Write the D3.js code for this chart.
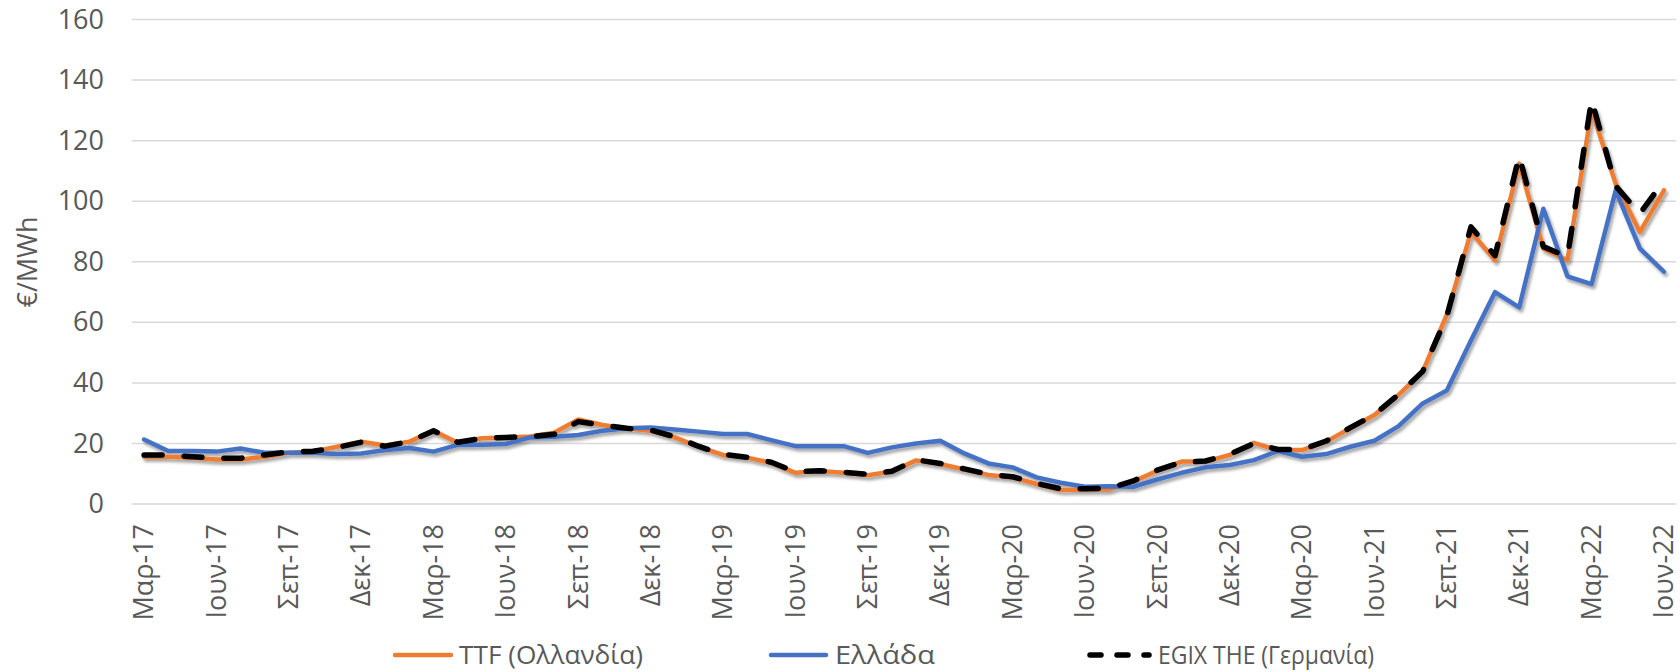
<!DOCTYPE html>
<html>
<head>
<meta charset="utf-8">
<script src="https://cdn.jsdelivr.net/npm/d3@7"></script>
<style>
  html, body { margin: 0; padding: 0; background: #fff; }
  svg { display: block; }
  text { font-family: "Open Sans", "Noto Sans", sans-serif; fill: #595959; }
</style>
</head>
<body>
<svg id="chart" width="1680" height="672"></svg>
<script>
const categories = [
  "Μαρ-17","Απρ-17","Μαϊ-17","Ιουν-17","Ιουλ-17","Αυγ-17","Σεπ-17","Οκτ-17","Νοε-17","Δεκ-17","Ιαν-18","Φεβ-18",
  "Μαρ-18","Απρ-18","Μαϊ-18","Ιουν-18","Ιουλ-18","Αυγ-18","Σεπ-18","Οκτ-18","Νοε-18","Δεκ-18","Ιαν-19","Φεβ-19",
  "Μαρ-19","Απρ-19","Μαϊ-19","Ιουν-19","Ιουλ-19","Αυγ-19","Σεπ-19","Οκτ-19","Νοε-19","Δεκ-19","Ιαν-20","Φεβ-20",
  "Μαρ-20","Απρ-20","Μαϊ-20","Ιουν-20","Ιουλ-20","Αυγ-20","Σεπ-20","Οκτ-20","Νοε-20","Δεκ-20","Ιαν-21","Φεβ-21",
  "Μαρ-20","Απρ-21","Μαϊ-21","Ιουν-21","Ιουλ-21","Αυγ-21","Σεπ-21","Οκτ-21","Νοε-21","Δεκ-21","Ιαν-22","Φεβ-22",
  "Μαρ-22","Απρ-22","Μαϊ-22","Ιουν-22"
];

const ttf = [
  15.6,15.6,15.3,14.7,14.7,15.6,16.9,17.3,18.9,20.6,19.3,20.6,
  24.2,20.2,21.7,22.0,22.3,23.5,27.9,26.1,25.0,24.2,22.0,18.9,
  16.2,15.3,13.6,10.3,10.9,10.3,9.5,10.7,14.4,13.2,11.4,9.6,
  8.8,6.6,4.6,4.8,4.8,7.4,11.0,14.0,14.0,16.2,20.2,17.8,
  17.8,20.6,25.0,29.4,36.0,43.7,62.5,89.8,80.5,112.4,84.4,80.5,
  130.0,105.8,89.8,103.6
];

const greece = [
  21.3,17.5,17.5,17.3,18.3,16.9,16.9,16.9,16.5,16.7,17.8,18.5,
  17.3,19.5,19.6,19.8,22.0,22.2,22.8,24.2,25.0,25.3,24.6,23.9,
  23.1,23.1,21.1,19.1,19.1,19.1,16.9,18.7,20.0,20.9,16.7,13.4,
  12.1,8.8,7.0,5.7,5.9,5.7,8.1,10.3,12.1,12.9,14.5,17.5,
  15.6,16.5,18.9,20.9,25.7,33.2,37.5,54.0,70.0,64.9,97.5,75.2,
  72.6,103.6,84.4,76.7
];

const egix = [
  16.2,16.2,15.6,15.1,15.1,16.2,17.2,17.4,18.7,20.4,19.1,20.6,
  24.2,20.4,21.7,22.0,22.3,23.0,27.2,26.0,25.0,24.4,22.2,19.0,
  16.4,15.4,13.8,10.6,11.0,10.5,9.8,10.8,14.6,13.4,11.6,9.8,
  9.0,6.8,5.0,5.0,5.2,7.6,11.2,13.8,14.2,16.4,20.0,18.0,
  18.0,20.8,25.2,29.5,36.2,43.8,62.0,91.5,82.0,115.0,85.0,81.6,
  133.5,105.0,95.9,106.7
];

const yTicks = [0,20,40,60,80,100,120,140,160];
const seriesNames = ["TTF (Ολλανδία)", "Ελλάδα", "EGIX THE (Γερμανία)"];
const yTitle = "€/MWh";

const svg = d3.select("#chart");
const plotLeft = 132, plotRight = 1676, plotTop = 19.5, plotBottom = 504;

const x = d3.scaleBand().domain(d3.range(categories.length)).range([plotLeft, plotRight]);
const cx = i => x(i) + x.bandwidth() / 2;
const y = d3.scaleLinear().domain([0, 160]).range([plotBottom, plotTop]);

const defs = svg.append("defs");
const f = defs.append("filter").attr("id", "shadow")
  .attr("x", "-5%").attr("y", "-5%").attr("width", "110%").attr("height", "120%");
f.append("feDropShadow").attr("dx", 2).attr("dy", 3).attr("stdDeviation", 1.8)
  .attr("flood-color", "#000").attr("flood-opacity", 0.35);

// gridlines
svg.append("g").selectAll("line").data(yTicks).join("line")
  .attr("x1", plotLeft).attr("x2", plotRight)
  .attr("y1", d => y(d)).attr("y2", d => y(d))
  .attr("stroke", "#d9d9d9").attr("stroke-width", 1.5);

// y axis
const ya = svg.append("g").attr("transform", `translate(${plotLeft - 28},0)`)
  .call(d3.axisLeft(y).tickValues(yTicks).tickSize(0).tickPadding(0));
ya.select(".domain").remove();
ya.selectAll("text").style("font-size", "27px").style("fill", "#595959")
  .style("font-family", '"Open Sans", sans-serif');

// x axis
const xa = svg.append("g").attr("transform", `translate(0,${plotBottom})`)
  .call(d3.axisBottom(x).tickValues(d3.range(0, categories.length, 3))
    .tickFormat(i => categories[i]).tickSize(0));
xa.select(".domain").remove();
xa.selectAll("text")
  .attr("transform", "rotate(-90)")
  .attr("x", -20).attr("y", 0).attr("dy", "0.34em")
  .style("text-anchor", "end")
  .style("font-size", "27px").style("fill", "#595959")
  .style("font-family", '"Open Sans", sans-serif');

// y title
svg.append("text")
  .attr("transform", `translate(37,262) rotate(-90)`)
  .attr("text-anchor", "middle")
  .style("font-size", "27px")
  .text(yTitle);

const line = d3.line().x((d, i) => cx(i)).y(d => y(d));

const lines = svg.append("g").attr("filter", "url(#shadow)");
lines.append("path").datum(ttf).attr("d", line)
  .attr("fill", "none").attr("stroke", "#ED7D31").attr("stroke-width", 4.5)
  .attr("stroke-linejoin", "round").attr("stroke-linecap", "round");
lines.append("path").datum(greece).attr("d", line)
  .attr("fill", "none").attr("stroke", "#4472C4").attr("stroke-width", 4.5)
  .attr("stroke-linejoin", "round").attr("stroke-linecap", "round");
lines.append("path").datum(egix).attr("d", line)
  .attr("fill", "none").attr("stroke", "#000").attr("stroke-width", 5.5)
  .attr("stroke-dasharray", "18,22")
  .attr("stroke-linejoin", "round").attr("stroke-linecap", "round");

// legend
const legendItems = [
  {name: seriesNames[0], color: "#ED7D31", dash: null, x1: 395, x2: 451, tx: 459, w: 4.5, len: 184},
  {name: seriesNames[1], color: "#4472C4", dash: null, x1: 771, x2: 826, tx: 835, w: 4.5, len: 100},
  {name: seriesNames[2], color: "#000", dash: "11,16", x1: 1090, x2: 1149, tx: 1158, w: 5.5, len: 216}
];
const lg = svg.append("g");
legendItems.forEach(it => {
  const l = lg.append("line").attr("x1", it.x1).attr("x2", it.x2)
    .attr("y1", 655).attr("y2", 655)
    .attr("stroke", it.color).attr("stroke-width", it.w).attr("stroke-linecap", "round");
  if (it.dash) l.attr("stroke-dasharray", it.dash);
  lg.append("text").attr("x", it.tx).attr("y", 655).attr("dy", "0.35em")
    .attr("textLength", it.len).attr("lengthAdjust", "spacingAndGlyphs")
    .style("font-size", "26px").text(it.name);
});
</script>
</body>
</html>
